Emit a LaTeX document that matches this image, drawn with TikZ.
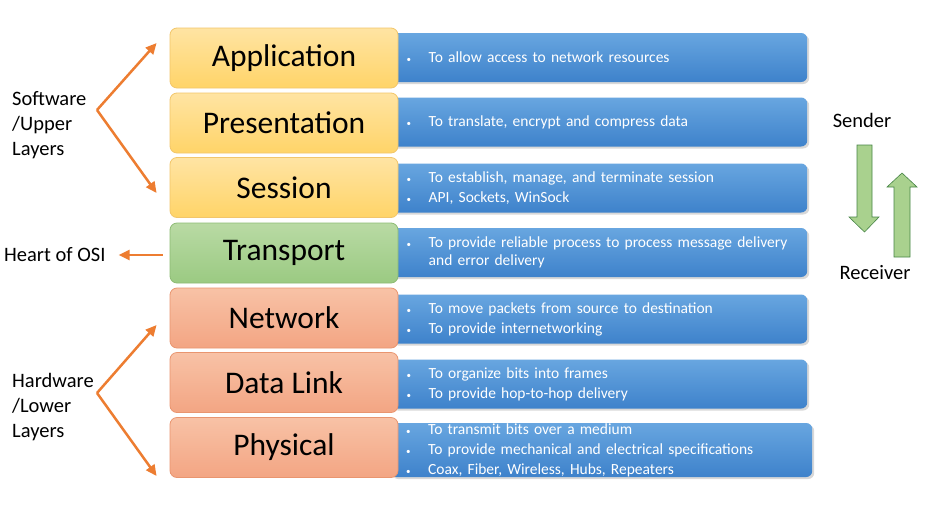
\documentclass[tikz,border=0pt]{standalone}
\usepackage{fontspec}
\setmainfont{Carlito}
\usetikzlibrary{arrows.meta,shadows}

\definecolor{arrorange}{HTML}{ED7D31}
\definecolor{blockgreen}{HTML}{A9D18E}
\definecolor{yeltop}{HTML}{FFE4A3}
\definecolor{yelbot}{HTML}{FFD468}
\definecolor{yelline}{HTML}{F2C66A}
\definecolor{grntop}{HTML}{B9DAA4}
\definecolor{grnbot}{HTML}{9BCA82}
\definecolor{grnline}{HTML}{8DBB74}
\definecolor{saltop}{HTML}{F8C2A6}
\definecolor{salbot}{HTML}{F3A583}
\definecolor{salline}{HTML}{E9956F}
\definecolor{bluetop}{HTML}{68A6E0}
\definecolor{bluebot}{HTML}{3E82CB}

\tikzset{
  layer/.style={rounded corners=7pt, minimum width=228pt, minimum height=60pt,
    font=\fontsize{31.5}{34}\selectfont, inner sep=0pt, line width=0.8pt},
  upper/.style={layer, draw=yelline, top color=yeltop, bottom color=yelbot},
  middle/.style={layer, draw=grnline, top color=grntop, bottom color=grnbot},
  lower/.style={layer, draw=salline, top color=saltop, bottom color=salbot},
  descbox/.style={rounded corners=6pt, minimum height=49pt, anchor=west, inner xsep=16pt, inner ysep=0pt,
    text width=384pt, top color=bluetop, bottom color=bluebot, text=white,
    align=left, font=\fontsize{15.5}{20}\selectfont,
    drop shadow={shadow xshift=2pt, shadow yshift=-2pt, opacity=0.3}},
  sidetext/.style={align=left, font=\fontsize{20.5}{25}\selectfont, inner sep=0pt},
  arr/.style={-{Triangle[length=11pt,width=10pt]}, arrorange, line width=2.5pt},
  blockarrow/.style={fill=blockgreen, draw=green!30!gray!80!black, line width=0.6pt}
}
\newcommand{\bitem}{\makebox[22pt][l]{\small\textbullet}}

\begin{document}
\begin{tikzpicture}[x=1pt,y=-1pt]
\useasboundingbox[fill=white] (0,0) rectangle (925,504);

% descriptions
\node[descbox, minimum width=417pt] (appdesc) at (390,57.5) {\bitem To allow access to network resources};
\node[descbox, minimum width=417pt] (presdesc) at (390,122) {\bitem To translate, encrypt and compress data};
\node[descbox, minimum width=417pt] (sessdesc) at (390,188) {\bitem To establish, manage, and terminate session\\\bitem API, Sockets, WinSock};
\node[descbox, minimum width=417pt] (transdesc) at (390,252.5) {\bitem To provide reliable process to process message delivery\\[-2pt]\hspace*{22pt}and error delivery};
\node[descbox, minimum width=417pt] (netdesc) at (390,319) {\bitem To move packets from source to destination\\\bitem To provide internetworking};
\node[descbox, minimum width=417pt] (dldesc) at (390,384) {\bitem To organize bits into frames\\\bitem To provide hop-to-hop delivery};
\node[descbox, text width=390pt, minimum width=422pt, minimum height=54pt] (physdesc) at (390,450) {\bitem To transmit bits over a medium\\\bitem To provide mechanical and electrical specifications\\\bitem Coax, Fiber, Wireless, Hubs, Repeaters};

% layers
\node[upper] (app) at (284,58) {Application};
\node[upper] (pres) at (284,123) {Presentation};
\node[upper] (sess) at (284,187.5) {Session};
\node[middle] (trans) at (284,253) {Transport};
\node[lower] (net) at (284,318) {Network};
\node[lower] (dl) at (284,382.5) {Data Link};
\node[lower] (phys) at (284,447.5) {Physical};

% left side
\node[sidetext, anchor=west] (soft) at (12,125) {Software\\/Upper\\Layers};
\node[sidetext, anchor=west] (hard) at (12,407) {Hardware\\/Lower\\Layers};
\node[sidetext, anchor=west] (heart) at (4,255) {Heart of OSI};
\coordinate (softv) at (97,110);
\coordinate (hardv) at (97,393);

\draw[arr] (softv) -- ([xshift=-13pt,yshift=15pt]app.west);
\draw[arr] (softv) -- ([xshift=-13pt,yshift=-5.5pt]sess.west);
\draw[arr] (hardv) -- ([xshift=-13pt,yshift=-7pt]net.west);
\draw[arr] (hardv) -- ([xshift=-13pt,yshift=-28.5pt]phys.west);
\draw[arr] ([xshift=-7pt,yshift=-2pt]trans.west) -- ([xshift=13pt]heart.east);

% sender / receiver
\node[font=\fontsize{20.5}{24}\selectfont] (sender) at (862,120) {Sender};
\node[font=\fontsize{20.5}{24}\selectfont] (receiver) at (875,273) {Receiver};
\draw[blockarrow] (857,145) -- (872,145) -- (872,217) -- (879,217) -- (864.5,232) -- (849,217) -- (857,217) -- cycle;
\draw[blockarrow] (894,257) -- (910,257) -- (910,187) -- (917,187) -- (902,173) -- (887,187) -- (894,187) -- cycle;

\end{tikzpicture}
\end{document}
